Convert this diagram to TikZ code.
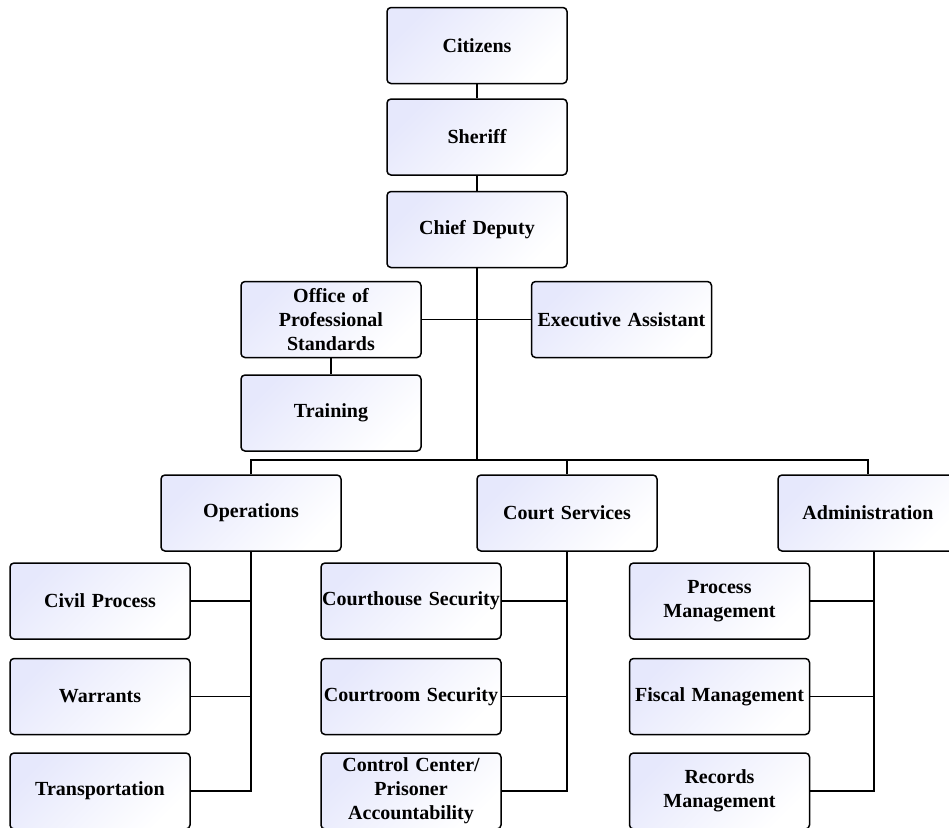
\documentclass[tikz,border=0pt]{standalone}
\usepackage{fontspec}
\setmainfont{Liberation Serif}
\usetikzlibrary{positioning}
\definecolor{boxblue}{RGB}{230,232,252}
\tikzset{block/.style={draw,line width=0.75pt,rounded corners=2pt,minimum width=90pt,minimum height=38pt,
                       text width=89pt,inner xsep=0.5pt,inner ysep=1pt,align=center,top color=boxblue,bottom color=white,
                       shading angle=45,font=\fontsize{10}{12.1}\selectfont\bfseries},
         line/.style={line width=0.8pt}
}

\begin{document}
\begin{tikzpicture}[x=0.5pt,y=-0.5pt,node distance=7pt]
  \useasboundingbox (0,0) rectangle (949,827);
  \node[block] (citizens) at (477,45.5) {Citizens};
  \node[block, below=of citizens] (sheriff) {Sheriff};
  \node[block, below=7.5pt of sheriff] (chief) {Chief Deputy};
  \node[block] (ops) at (331,319.5) {Office of\\Professional\\Standards};
  \node[block, right=of ops, xshift=47.5pt] (exec) {Executive Assistant};
  \node[block, below=8pt of ops] (training) {Training};
  % divisions
  \node[block] (operations) at (251,513) {Operations};
  \node[block] (court) at (567,513) {Court Services};
  \node[block] (admin) at (868,513) {Administration};
  \node[block] (civil) at (100,601) {Civil Process};
  \node[block, below=9pt of civil] (warrants) {Warrants};
  \node[block, below=8.5pt of warrants] (transport) {Transportation};
  \node[block] (courthouse) at (411,601) {Courthouse Security};
  \node[block, below=9pt of courthouse] (courtroom) {Courtroom Security};
  \node[block, below=8.5pt of courtroom] (control) {Control Center/\\Prisoner\\Accountability};
  \node[block] (process) at (719.5,601) {Process\\Management};
  \node[block, below=9pt of process] (fiscal) {Fiscal Management};
  \node[block, below=8.5pt of fiscal] (records) {Records\\Management};
  \coordinate (hub) at (477,460);

  \draw[line] (citizens) -- (sheriff);
  \draw[line] (sheriff) -- (chief);
  \draw[line] (chief) -- (hub);
  \draw[line] (ops) -- (exec);
  \draw[line] (ops) -- (training);
  \draw[line] (operations.north) |- (hub) -| (admin.north);
  \draw[line] (court.north) -- (court.north |- hub);
  \foreach \n in {civil,warrants,transport}
    \draw[line] (\n.east) -| (operations.south);
  \foreach \n in {courthouse,courtroom,control}
    \draw[line] (\n.east) -| (court.south);
  \foreach \n in {process,fiscal,records}
    \draw[line] (\n.east) -| ([xshift=3pt]admin.south);
\end{tikzpicture}
\end{document}
